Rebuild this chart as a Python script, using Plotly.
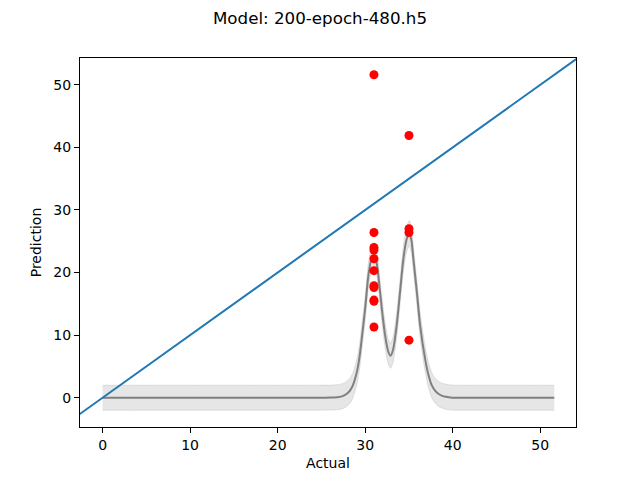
import plotly.graph_objects as go

# Data
actual_31 = [31] * 11
pred_31 = [51.6, 26.4, 24.0, 23.6, 22.2, 20.3, 17.9, 17.6, 15.6, 15.4, 11.3]
actual_35 = [35] * 4
pred_35 = [41.9, 27.0, 26.4, 9.2]

curve_x = [0, 2, 4, 6, 8, 10, 12, 14, 16, 18, 20, 22, 24, 25, 26.0, 26.5, 27.0, 27.4, 27.7,
           28.0, 28.3, 28.6, 28.9, 29.15, 29.4, 29.7, 30.0, 30.36, 30.74,
           31.0, 31.25, 31.5, 31.9, 32.27, 32.65, 32.9, 33.2, 33.6, 33.98, 34.36, 34.75,
           35.05, 35.3, 35.5, 35.9, 36.27, 36.84, 37.2, 37.6, 38.0, 38.4, 38.8, 39.2,
           39.7, 40.2, 41, 42, 44, 46, 48, 50, 51.6]
curve_y = [0, 0, 0, 0, 0, 0, 0, 0, 0, 0, 0, 0, 0, 0.0, 0.02, 0.05, 0.12, 0.25, 0.45,
           0.75, 1.2, 2.0, 3.3, 4.8, 7.0, 10.6, 14.3, 19.5, 22.3,
           22.8, 22.0, 19.5, 14.2, 10.0, 7.3, 6.7, 7.8, 11.6, 16.9, 22.2, 25.4,
           26.3, 25.0, 22.2, 16.9, 11.6, 6.25, 3.8, 2.0, 1.1, 0.6, 0.3, 0.15,
           0.05, 0.0, 0, 0, 0, 0, 0, 0, 0]
band_halfwidth = 2.0

diag = [-10, 60]

x_ticks = [0, 10, 20, 30, 40, 50]
y_ticks = [0, 10, 20, 30, 40, 50]

xs = actual_31 + actual_35
ys = pred_31 + pred_35

lower = [v - band_halfwidth for v in curve_y]
upper = [v + band_halfwidth for v in curve_y]

fig = go.Figure()
band_col = "rgba(128,128,128,0.2)"
spl = dict(shape="spline", smoothing=0.6)
fig.add_trace(go.Scatter(x=curve_x, y=lower, mode="lines",
                         line=dict(color=band_col, width=1, **spl),
                         showlegend=False, hoverinfo="skip"))
fig.add_trace(go.Scatter(x=curve_x, y=upper, mode="lines", fill="tonexty",
                         fillcolor=band_col,
                         line=dict(color=band_col, width=1, **spl),
                         showlegend=False, hoverinfo="skip"))
fig.add_trace(go.Scatter(x=curve_x, y=curve_y, mode="lines",
                         line=dict(color="#808080", width=2, **spl),
                         showlegend=False))
fig.add_trace(go.Scatter(x=diag, y=diag, mode="lines",
                         line=dict(color="#1f77b4", width=2), showlegend=False))
fig.add_trace(go.Scatter(x=xs, y=ys, mode="markers",
                         marker=dict(color="red", size=9), showlegend=False))

font = "DejaVu Sans, Liberation Sans, sans-serif"
fig.update_layout(
    width=640, height=480,
    margin=dict(l=80, r=64, t=57.6, b=52.8),
    paper_bgcolor="white", plot_bgcolor="white",
    font=dict(family=font, size=14, color="black"),
    title=dict(text="Model: 200-epoch-480.h5", x=0.5, xanchor="center",
               y=1 - 18 / 480, yanchor="middle", font=dict(size=16.7)),
)
axis_common = dict(showgrid=False, zeroline=False, showline=True, mirror=True,
                   linecolor="black", linewidth=1, ticks="outside", ticklen=5,
                   tickwidth=1, tickcolor="black", automargin=False)
fig.update_xaxes(range=[-2.58, 54.08], tickmode="array", tickvals=x_ticks,
                 title=dict(text="Actual", standoff=6, font=dict(size=14)), **axis_common)
fig.update_yaxes(range=[-4.68, 54.28], tickmode="array", tickvals=y_ticks,
                 title=dict(text="Prediction", standoff=8, font=dict(size=14)), **axis_common)

fig.write_html("out.html", config={"displayModeBar": False},
               post_script="document.body.style.margin='0px';")
